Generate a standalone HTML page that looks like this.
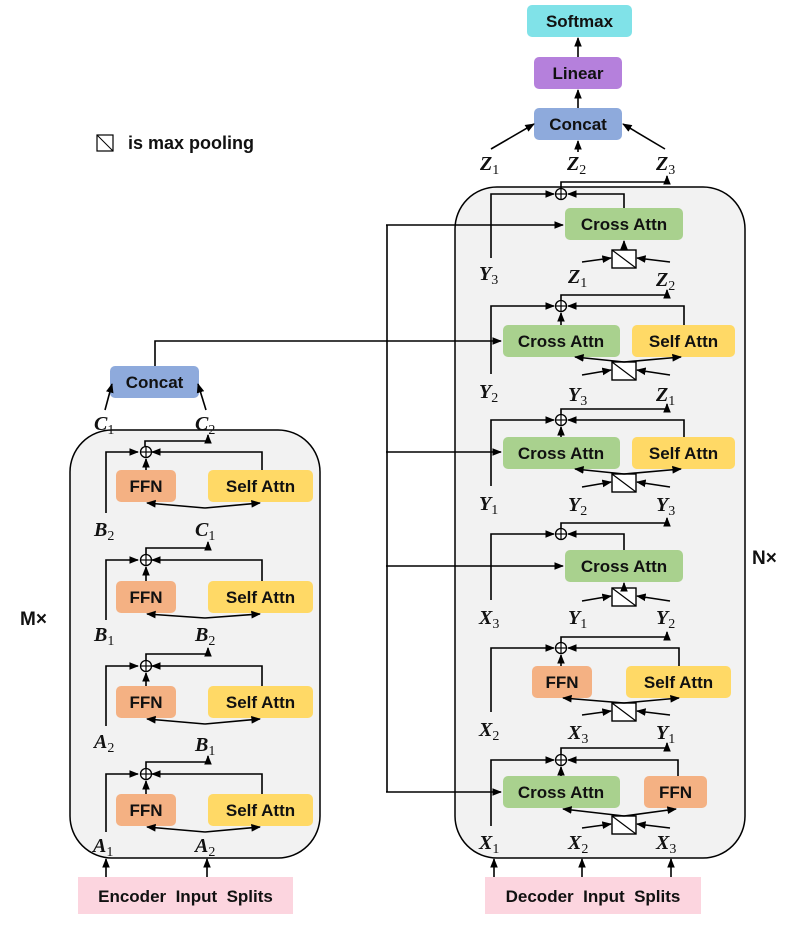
<!DOCTYPE html>
<html><head><meta charset="utf-8"><style>
html,body{margin:0;padding:0;background:#fff;}
svg{display:block;}
.b{font-family:"Liberation Sans",sans-serif;font-weight:bold;font-size:17px;fill:#111;text-anchor:middle;}
.m{font-family:"Liberation Serif",serif;font-weight:bold;font-style:italic;font-size:20px;fill:#111;}
.s{font-style:normal;font-weight:normal;font-size:14px;}
.l{stroke:#000;stroke-width:1.6;fill:none;}
</style></head><body>
<svg width="790" height="932" viewBox="0 0 790 932" xmlns="http://www.w3.org/2000/svg">
<defs>
<marker id="a" viewBox="0 0 10 10" refX="9" refY="5" markerWidth="6" markerHeight="6" orient="auto"><path d="M0,1 L10,5 L0,9 z" fill="#000"/></marker>
<g id="pool"><rect x="0" y="0" width="24" height="18" fill="#fff" stroke="#000" stroke-width="1.4"/><line x1="0" y1="0" x2="24" y2="18" stroke="#000" stroke-width="1.2"/></g>
<g id="plus"><circle cx="0" cy="0" r="5.5" fill="#fff" stroke="#000" stroke-width="1.3"/><line x1="-5.5" y1="0" x2="5.5" y2="0" stroke="#000" stroke-width="1.2"/><line x1="0" y1="-5.5" x2="0" y2="5.5" stroke="#000" stroke-width="1.2"/></g>
</defs>

<!-- containers -->
<rect x="455" y="187" width="290" height="671" rx="42" fill="#f2f2f2" stroke="#000" stroke-width="1.5"/>
<rect x="70" y="430" width="250" height="428" rx="42" fill="#f2f2f2" stroke="#000" stroke-width="1.5"/>

<!-- top stack -->
<rect x="527" y="5" width="105" height="32" rx="5" fill="#80e2e8"/><text class="b" x="579.5" y="27">Softmax</text>
<rect x="534" y="57" width="88" height="32" rx="5" fill="#b580dc"/><text class="b" x="578" y="79">Linear</text>
<rect x="534" y="108" width="88" height="32" rx="5" fill="#8eaadc"/><text class="b" x="578" y="130">Concat</text>
<line class="l" x1="578" y1="57" x2="578" y2="38" marker-end="url(#a)"/>
<line class="l" x1="578" y1="108" x2="578" y2="90" marker-end="url(#a)"/>
<line class="l" x1="491" y1="149" x2="534" y2="124" marker-end="url(#a)"/>
<line class="l" x1="578" y1="152" x2="578" y2="141" marker-end="url(#a)"/>
<line class="l" x1="665" y1="149" x2="623" y2="124" marker-end="url(#a)"/>
<text class="m" x="480" y="170">Z<tspan class="s" dy="4">1</tspan></text>
<text class="m" x="567" y="170">Z<tspan class="s" dy="4">2</tspan></text>
<text class="m" x="656" y="170">Z<tspan class="s" dy="4">3</tspan></text>

<!-- legend -->
<rect x="97" y="135" width="16" height="16" fill="#fff" stroke="#000" stroke-width="1.2"/><line x1="97" y1="135" x2="113" y2="151" stroke="#000" stroke-width="1"/>
<text x="128" y="149" style="font-family:'Liberation Sans',sans-serif;font-weight:bold;font-size:18px;fill:#111">is max pooling</text>

<text x="752" y="564" style="font-family:'Liberation Sans',sans-serif;font-weight:bold;font-size:19px;fill:#111">N×</text>
<text x="20" y="625" style="font-family:'Liberation Sans',sans-serif;font-weight:bold;font-size:19px;fill:#111">M×</text>

<!-- left vertical feed line -->
<polyline class="l" points="387,792 387,225"/>
<line class="l" x1="386" y1="225" x2="563" y2="225" marker-end="url(#a)"/>
<line class="l" x1="386" y1="452" x2="501" y2="452" marker-end="url(#a)"/>
<line class="l" x1="386" y1="566" x2="563" y2="566" marker-end="url(#a)"/>
<line class="l" x1="386" y1="792" x2="501" y2="792" marker-end="url(#a)"/>
<polyline class="l" points="155,366 155,341 501,341" marker-end="url(#a)"/>

<!-- ===== Decoder block 1 ===== -->
<polyline class="l" points="561,188 561,182 667,182 667,176" marker-end="url(#a)"/>
<polyline class="l" points="491,258 491,194 554,194" marker-end="url(#a)"/>
<polyline class="l" points="624,208 624,194 568,194" marker-end="url(#a)"/>
<use href="#plus" x="561" y="194"/>
<rect x="565" y="208" width="118" height="32" rx="5" fill="#a9d18e"/><text class="b" x="624" y="230">Cross Attn</text>
<use href="#pool" x="612" y="250"/>
<line class="l" x1="624" y1="250" x2="624" y2="241" marker-end="url(#a)"/>
<line class="l" x1="582" y1="262" x2="611" y2="258" marker-end="url(#a)"/>
<line class="l" x1="670" y1="262" x2="637" y2="258" marker-end="url(#a)"/>
<text class="m" x="479" y="280">Y<tspan class="s" dy="4">3</tspan></text>
<text class="m" x="568" y="283">Z<tspan class="s" dy="4">1</tspan></text>
<text class="m" x="656" y="286">Z<tspan class="s" dy="4">2</tspan></text>

<!-- ===== Decoder block 2 ===== -->
<polyline class="l" points="561,300 561,295 667,295 667,290" marker-end="url(#a)"/>
<polyline class="l" points="491,374 491,306 554,306" marker-end="url(#a)"/>
<polyline class="l" points="684,325 684,306 568,306" marker-end="url(#a)"/>
<line class="l" x1="561" y1="325" x2="561" y2="313" marker-end="url(#a)"/>
<use href="#plus" x="561" y="306"/>
<rect x="503" y="325" width="117" height="32" rx="5" fill="#a9d18e"/><text class="b" x="561" y="347">Cross Attn</text>
<rect x="632" y="325" width="103" height="32" rx="5" fill="#ffd966"/><text class="b" x="683.5" y="347">Self Attn</text>
<use href="#pool" x="612" y="362"/>
<line class="l" x1="624" y1="362" x2="575" y2="357" marker-end="url(#a)"/>
<line class="l" x1="624" y1="362" x2="681" y2="357" marker-end="url(#a)"/>
<line class="l" x1="582" y1="375" x2="611" y2="370" marker-end="url(#a)"/>
<line class="l" x1="670" y1="375" x2="637" y2="370" marker-end="url(#a)"/>
<text class="m" x="479" y="398">Y<tspan class="s" dy="4">2</tspan></text>
<text class="m" x="568" y="401">Y<tspan class="s" dy="4">3</tspan></text>
<text class="m" x="656" y="401">Z<tspan class="s" dy="4">1</tspan></text>

<!-- ===== Decoder block 3 ===== -->
<polyline class="l" points="561,414 561,409 667,409 667,404" marker-end="url(#a)"/>
<polyline class="l" points="491,486 491,420 554,420" marker-end="url(#a)"/>
<polyline class="l" points="684,437 684,420 568,420" marker-end="url(#a)"/>
<line class="l" x1="561" y1="437" x2="561" y2="427" marker-end="url(#a)"/>
<use href="#plus" x="561" y="420"/>
<rect x="503" y="437" width="117" height="32" rx="5" fill="#a9d18e"/><text class="b" x="561" y="459">Cross Attn</text>
<rect x="632" y="437" width="103" height="32" rx="5" fill="#ffd966"/><text class="b" x="683.5" y="459">Self Attn</text>
<use href="#pool" x="612" y="474"/>
<line class="l" x1="624" y1="474" x2="575" y2="469" marker-end="url(#a)"/>
<line class="l" x1="624" y1="474" x2="681" y2="469" marker-end="url(#a)"/>
<line class="l" x1="582" y1="487" x2="611" y2="482" marker-end="url(#a)"/>
<line class="l" x1="670" y1="487" x2="637" y2="482" marker-end="url(#a)"/>
<text class="m" x="479" y="510">Y<tspan class="s" dy="4">1</tspan></text>
<text class="m" x="568" y="511">Y<tspan class="s" dy="4">2</tspan></text>
<text class="m" x="656" y="511">Y<tspan class="s" dy="4">3</tspan></text>

<!-- ===== Decoder block 4 ===== -->
<polyline class="l" points="561,528 561,523 667,523 667,518" marker-end="url(#a)"/>
<polyline class="l" points="491,600 491,534 554,534" marker-end="url(#a)"/>
<polyline class="l" points="624,550 624,534 568,534" marker-end="url(#a)"/>
<use href="#plus" x="561" y="534"/>
<rect x="565" y="550" width="118" height="32" rx="5" fill="#a9d18e"/><text class="b" x="624" y="572">Cross Attn</text>
<use href="#pool" x="612" y="588"/>
<line class="l" x1="624" y1="588" x2="624" y2="583" marker-end="url(#a)"/>
<line class="l" x1="582" y1="601" x2="611" y2="596" marker-end="url(#a)"/>
<line class="l" x1="670" y1="601" x2="637" y2="596" marker-end="url(#a)"/>
<text class="m" x="479" y="624">X<tspan class="s" dy="4">3</tspan></text>
<text class="m" x="568" y="624">Y<tspan class="s" dy="4">1</tspan></text>
<text class="m" x="656" y="624">Y<tspan class="s" dy="4">2</tspan></text>

<!-- ===== Decoder block 5 ===== -->
<polyline class="l" points="561,642 561,637 667,637 667,632" marker-end="url(#a)"/>
<polyline class="l" points="491,712 491,648 554,648" marker-end="url(#a)"/>
<polyline class="l" points="679,666 679,648 568,648" marker-end="url(#a)"/>
<line class="l" x1="561" y1="666" x2="561" y2="655" marker-end="url(#a)"/>
<use href="#plus" x="561" y="648"/>
<rect x="532" y="666" width="60" height="32" rx="5" fill="#f4b183"/><text class="b" x="562" y="688">FFN</text>
<rect x="626" y="666" width="105" height="32" rx="5" fill="#ffd966"/><text class="b" x="678.5" y="688">Self Attn</text>
<use href="#pool" x="612" y="703"/>
<line class="l" x1="624" y1="703" x2="563" y2="698" marker-end="url(#a)"/>
<line class="l" x1="624" y1="703" x2="679" y2="698" marker-end="url(#a)"/>
<line class="l" x1="582" y1="715" x2="611" y2="711" marker-end="url(#a)"/>
<line class="l" x1="670" y1="715" x2="637" y2="711" marker-end="url(#a)"/>
<text class="m" x="479" y="736">X<tspan class="s" dy="4">2</tspan></text>
<text class="m" x="568" y="739">X<tspan class="s" dy="4">3</tspan></text>
<text class="m" x="656" y="739">Y<tspan class="s" dy="4">1</tspan></text>

<!-- ===== Decoder block 6 ===== -->
<polyline class="l" points="561,754 561,748 667,748 667,743" marker-end="url(#a)"/>
<polyline class="l" points="491,826 491,760 554,760" marker-end="url(#a)"/>
<polyline class="l" points="678,776 678,760 568,760" marker-end="url(#a)"/>
<line class="l" x1="561" y1="776" x2="561" y2="767" marker-end="url(#a)"/>
<use href="#plus" x="561" y="760"/>
<rect x="503" y="776" width="117" height="32" rx="5" fill="#a9d18e"/><text class="b" x="561" y="798">Cross Attn</text>
<rect x="644" y="776" width="63" height="32" rx="5" fill="#f4b183"/><text class="b" x="675.5" y="798">FFN</text>
<use href="#pool" x="612" y="816"/>
<line class="l" x1="624" y1="816" x2="563" y2="809" marker-end="url(#a)"/>
<line class="l" x1="624" y1="816" x2="676" y2="809" marker-end="url(#a)"/>
<line class="l" x1="582" y1="828" x2="611" y2="824" marker-end="url(#a)"/>
<line class="l" x1="670" y1="828" x2="637" y2="824" marker-end="url(#a)"/>
<text class="m" x="479" y="849">X<tspan class="s" dy="4">1</tspan></text>
<text class="m" x="568" y="849">X<tspan class="s" dy="4">2</tspan></text>
<text class="m" x="656" y="849">X<tspan class="s" dy="4">3</tspan></text>

<rect x="485" y="877" width="216" height="37" fill="#fcd5df"/><text class="b" x="593" y="902">Decoder&#160; Input&#160; Splits</text>
<line class="l" x1="494" y1="877" x2="494" y2="859" marker-end="url(#a)"/>
<line class="l" x1="582" y1="877" x2="582" y2="859" marker-end="url(#a)"/>
<line class="l" x1="671" y1="877" x2="671" y2="859" marker-end="url(#a)"/>

<!-- ===== Encoder ===== -->
<rect x="110" y="366" width="89" height="32" rx="5" fill="#8eaadc"/><text class="b" x="154.5" y="388">Concat</text>
<line class="l" x1="105" y1="410" x2="112" y2="384" marker-end="url(#a)"/>
<line class="l" x1="206" y1="410" x2="198" y2="384" marker-end="url(#a)"/>
<text class="m" x="94" y="430">C<tspan class="s" dy="4">1</tspan></text>
<text class="m" x="195" y="430">C<tspan class="s" dy="4">2</tspan></text>

<!-- enc block 1 -->
<polyline class="l" points="145,446 145,441 208,441 208,435" marker-end="url(#a)"/>
<polyline class="l" points="106,513 106,452 138,452" marker-end="url(#a)"/>
<polyline class="l" points="262,470 262,452 152,452" marker-end="url(#a)"/>
<line class="l" x1="146" y1="470" x2="146" y2="459" marker-end="url(#a)"/>
<use href="#plus" x="146" y="452"/>
<rect x="116" y="470" width="60" height="32" rx="5" fill="#f4b183"/><text class="b" x="146" y="492">FFN</text>
<rect x="208" y="470" width="105" height="32" rx="5" fill="#ffd966"/><text class="b" x="260.5" y="492">Self Attn</text>
<line class="l" x1="205" y1="508" x2="147" y2="503" marker-end="url(#a)"/>
<line class="l" x1="205" y1="508" x2="260" y2="503" marker-end="url(#a)"/>
<text class="m" x="94" y="536">B<tspan class="s" dy="4">2</tspan></text>
<text class="m" x="195" y="536">C<tspan class="s" dy="4">1</tspan></text>

<!-- enc block 2 -->
<polyline class="l" points="146,554 146,548 208,548 208,542" marker-end="url(#a)"/>
<polyline class="l" points="106,620 106,560 138,560" marker-end="url(#a)"/>
<polyline class="l" points="262,581 262,560 152,560" marker-end="url(#a)"/>
<line class="l" x1="146" y1="581" x2="146" y2="567" marker-end="url(#a)"/>
<use href="#plus" x="146" y="560"/>
<rect x="116" y="581" width="60" height="32" rx="5" fill="#f4b183"/><text class="b" x="146" y="603">FFN</text>
<rect x="208" y="581" width="105" height="32" rx="5" fill="#ffd966"/><text class="b" x="260.5" y="603">Self Attn</text>
<line class="l" x1="205" y1="618" x2="147" y2="614" marker-end="url(#a)"/>
<line class="l" x1="205" y1="618" x2="260" y2="614" marker-end="url(#a)"/>
<text class="m" x="94" y="641">B<tspan class="s" dy="4">1</tspan></text>
<text class="m" x="195" y="641">B<tspan class="s" dy="4">2</tspan></text>

<!-- enc block 3 -->
<polyline class="l" points="146,660 146,654 208,654 208,648" marker-end="url(#a)"/>
<polyline class="l" points="106,726 106,666 138,666" marker-end="url(#a)"/>
<polyline class="l" points="262,686 262,666 152,666" marker-end="url(#a)"/>
<line class="l" x1="146" y1="686" x2="146" y2="673" marker-end="url(#a)"/>
<use href="#plus" x="146" y="666"/>
<rect x="116" y="686" width="60" height="32" rx="5" fill="#f4b183"/><text class="b" x="146" y="708">FFN</text>
<rect x="208" y="686" width="105" height="32" rx="5" fill="#ffd966"/><text class="b" x="260.5" y="708">Self Attn</text>
<line class="l" x1="205" y1="724" x2="147" y2="719" marker-end="url(#a)"/>
<line class="l" x1="205" y1="724" x2="260" y2="719" marker-end="url(#a)"/>
<text class="m" x="94" y="748">A<tspan class="s" dy="4">2</tspan></text>
<text class="m" x="195" y="751">B<tspan class="s" dy="4">1</tspan></text>

<!-- enc block 4 -->
<polyline class="l" points="146,768 146,762 208,762 208,756" marker-end="url(#a)"/>
<polyline class="l" points="106,832 106,774 138,774" marker-end="url(#a)"/>
<polyline class="l" points="262,794 262,774 152,774" marker-end="url(#a)"/>
<line class="l" x1="146" y1="794" x2="146" y2="781" marker-end="url(#a)"/>
<use href="#plus" x="146" y="774"/>
<rect x="116" y="794" width="60" height="32" rx="5" fill="#f4b183"/><text class="b" x="146" y="816">FFN</text>
<rect x="208" y="794" width="105" height="32" rx="5" fill="#ffd966"/><text class="b" x="260.5" y="816">Self Attn</text>
<line class="l" x1="205" y1="832" x2="147" y2="827" marker-end="url(#a)"/>
<line class="l" x1="205" y1="832" x2="260" y2="827" marker-end="url(#a)"/>
<text class="m" x="93" y="852">A<tspan class="s" dy="4">1</tspan></text>
<text class="m" x="195" y="852">A<tspan class="s" dy="4">2</tspan></text>

<rect x="78" y="877" width="215" height="37" fill="#fcd5df"/><text class="b" x="185.5" y="902">Encoder&#160; Input&#160; Splits</text>
<line class="l" x1="106" y1="877" x2="106" y2="859" marker-end="url(#a)"/>
<line class="l" x1="207" y1="877" x2="207" y2="859" marker-end="url(#a)"/>
</svg>
</body></html>
